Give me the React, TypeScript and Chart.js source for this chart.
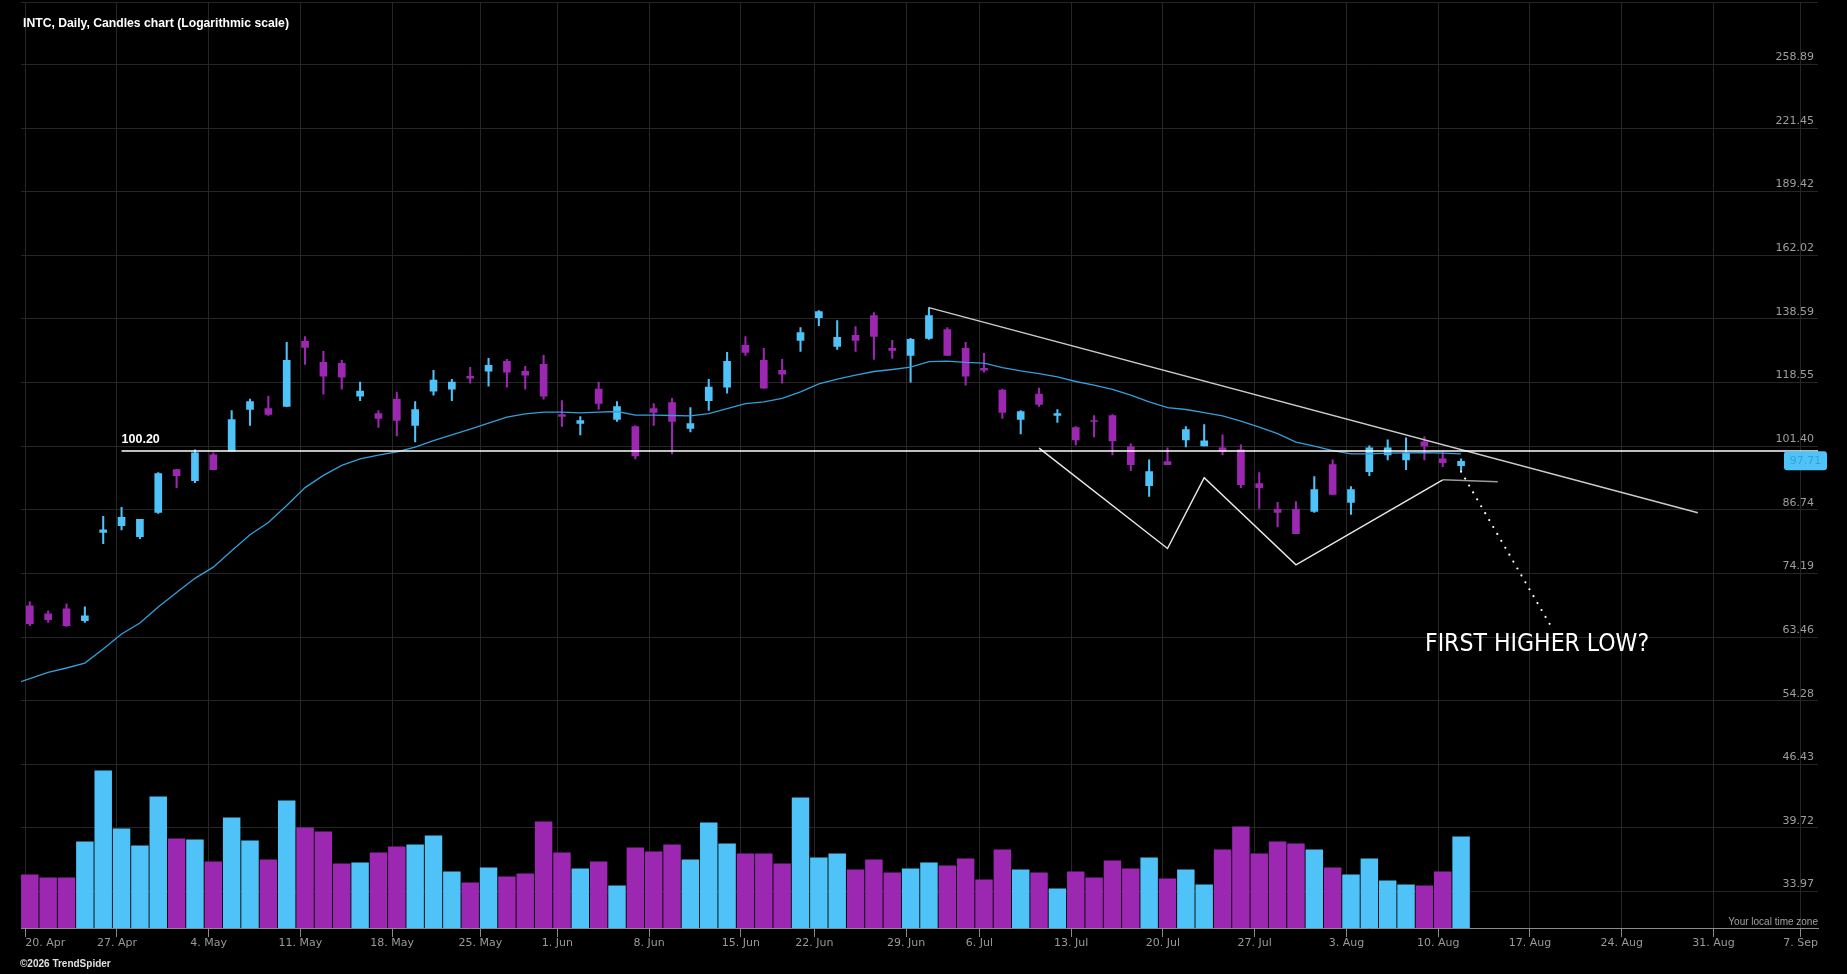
import React, { useEffect, useRef } from 'react';
import Chart from 'chart.js/auto';

// daily sessions from 20 Apr to 11 Aug
const opens = [
  68.5, 67.17, 68.0, 66.05, 82.03, 83.39, 81.17, 86.17, 95.71, 93.16,
  99.26, 100.24, 110.94, 111.21, 111.76, 131.13, 124.56, 124.25, 114.64, 109.85,
  113.8, 106.67, 116.05, 116.62, 120.39, 121.88, 124.86, 121.88, 123.95, 109.59,
  107.19, 116.62, 108.25, 106.41, 111.21, 112.86, 105.89, 113.41, 117.19, 129.86,
  125.17, 122.18, 131.46, 139.03, 129.54, 133.08, 139.72, 128.9, 126.71, 132.1,
  135.0, 128.9, 122.78, 116.33, 108.25, 115.2, 109.32, 106.15, 107.99, 109.32,
  101.23, 92.03, 97.6, 102.98, 101.47, 100.98, 100.48, 92.48, 86.81, 86.81,
  86.38, 96.89, 88.31, 95.24, 99.26, 98.05, 102.47, 98.29, 96.65,
];
const highs = [
  69.18, 67.67, 68.84, 68.33, 85.33, 87.23, 84.7, 95.01, 95.71, 100.48,
  99.75, 110.67, 113.8, 114.64, 130.81, 132.71, 127.96, 125.17, 118.64, 110.67,
  115.76, 113.13, 122.18, 119.51, 123.04, 125.78, 125.48, 123.34, 126.71, 113.41,
  109.05, 118.64, 113.13, 106.67, 112.58, 114.0, 111.48, 119.51, 127.65, 132.71,
  128.9, 125.48, 135.67, 141.44, 138.01, 136.0, 140.75, 131.46, 132.1, 142.48,
  135.67, 130.81, 127.33, 116.62, 110.67, 116.9, 110.94, 106.41, 109.32, 109.59,
  101.97, 98.05, 100.98, 106.41, 106.93, 104.25, 101.72, 95.01, 88.31, 88.52,
  94.08, 98.05, 91.8, 101.47, 102.98, 103.48, 103.74, 99.99, 98.29,
];
const lows = [
  65.24, 65.77, 65.13, 65.77, 79.79, 82.57, 80.77, 85.96, 91.58, 92.71,
  95.71, 100.24, 106.67, 109.32, 111.76, 123.95, 115.2, 116.62, 113.41, 106.15,
  103.99, 102.47, 114.92, 113.41, 118.35, 117.48, 117.19, 116.62, 113.8, 106.41,
  104.25, 110.94, 107.72, 98.29, 106.67, 99.5, 105.02, 110.67, 115.48, 126.71,
  116.9, 118.35, 127.96, 136.33, 128.59, 127.96, 125.48, 125.78, 118.64, 131.78,
  126.71, 117.77, 121.58, 108.52, 104.5, 111.76, 107.46, 101.72, 103.74, 99.26,
  95.47, 89.61, 96.89, 101.23, 101.47, 99.26, 91.58, 87.02, 83.18, 81.77,
  86.17, 90.06, 85.75, 94.31, 98.05, 95.71, 98.05, 96.41, 95.47,
];
const closes = [
  65.56, 66.21, 65.24, 66.84, 82.57, 85.12, 84.7, 94.77, 94.31, 99.75,
  95.71, 108.25, 113.13, 109.59, 125.17, 129.22, 120.39, 120.1, 116.05, 108.52,
  107.99, 110.94, 119.22, 118.64, 119.81, 123.64, 121.58, 120.69, 114.64, 109.05,
  107.99, 112.58, 111.76, 99.02, 110.12, 107.72, 107.19, 117.19, 124.86, 127.65,
  116.9, 120.99, 134.01, 141.09, 132.43, 131.46, 132.71, 128.27, 131.78, 139.72,
  126.71, 120.39, 122.18, 110.12, 110.4, 112.31, 109.85, 102.98, 107.72, 102.73,
  96.89, 95.24, 96.89, 105.58, 102.73, 100.24, 92.25, 91.58, 86.17, 81.77,
  91.13, 90.06, 91.13, 100.98, 100.98, 99.75, 101.47, 97.36, 97.71,
];
// millions of shares
const volumes = [
  44.4, 41.9, 41.9, 71.9, 131.1, 82.8, 68.6, 109.4, 74.4, 73.6,
  55.3, 91.9, 72.8, 56.9, 106.1, 83.6, 80.3, 53.6, 54.4, 62.8,
  67.8, 69.4, 76.9, 46.9, 37.8, 50.3, 42.8, 45.3, 88.6, 62.8,
  49.4, 55.3, 35.3, 66.9, 63.6, 69.4, 56.9, 87.8, 70.3, 61.9,
  61.9, 53.6, 108.6, 58.6, 61.9, 48.6, 56.9, 46.1, 49.4, 54.4,
  51.9, 57.8, 40.3, 65.3, 48.6, 46.1, 32.8, 46.9, 41.9, 56.1,
  49.4, 58.6, 41.1, 48.6, 36.1, 65.3, 84.4, 61.9, 71.9, 70.3,
  65.3, 50.3, 44.4, 57.8, 39.4, 36.1, 35.3, 46.9, 76.1,
];
// moving average, first value belongs to the session before 20 Apr
const maValues = [
  56.45,
  57.28, 58.17, 58.81, 59.53, 61.62, 63.93, 65.68, 68.33, 70.77, 73.29,
  75.34, 78.43, 81.57, 84.08, 87.66, 91.58, 94.38, 96.72, 98.29, 99.19,
  99.99, 101.15, 102.8, 104.25, 105.71, 107.27, 108.86, 109.77, 110.21, 110.21,
  110.04, 110.21, 110.4, 109.4, 109.4, 109.32, 109.24, 109.85, 111.21, 112.58,
  113.05, 113.99, 115.85, 118.14, 119.51, 120.69, 121.79, 122.39, 123.13, 124.77,
  124.95, 124.56, 124.34, 122.99, 121.97, 121.19, 120.19, 118.84, 117.77, 116.53,
  114.92, 113.05, 111.48, 110.94, 110.12, 109.24, 107.8, 106.23, 104.58, 102.4,
  101.4, 100.31, 99.5, 99.5, 99.68, 99.75, 99.82, 99.68, 99.5,
];
const maFirstSession = -1;

const xTickLabels = [
  '20. Apr', '27. Apr', '4. May', '11. May', '18. May', '25. May', '1. Jun', '8. Jun',
  '15. Jun', '22. Jun', '29. Jun', '6. Jul', '13. Jul', '20. Jul', '27. Jul', '3. Aug',
  '10. Aug', '17. Aug', '24. Aug', '31. Aug', '7. Sep',
];
// where each date starts, in session units
const xTickSessions = [
  -0.25, 4.75, 9.75, 14.75, 19.75, 24.55, 28.75, 33.75, 38.75, 42.75, 47.75,
  51.75, 56.75, 61.75, 66.75, 71.75, 76.75, 81.75, 86.75, 91.75, 96.5,
];
const priceTicks = [
  33.97, 39.72, 46.43, 54.28, 63.46, 74.19, 86.74, 101.4, 118.55, 138.59, 162.02, 189.42, 221.45, 258.89,
];

const levelPrice = 100.2;
const levelFromSession = 5;
const trendLine = [{ x: 49, y: 142.48 }, { x: 90.9, y: 86.1 }];
const patternLine = [
  { x: 55, y: 100.9 }, { x: 62, y: 78.87 }, { x: 64, y: 93.85 },
  { x: 69, y: 75.77 }, { x: 77, y: 93.36 }, { x: 80, y: 92.93 },
];
const projection = [{ x: 78, y: 95.24 }, { x: 82.85, y: 65.4 }];
const noteText = 'FIRST HIGHER LOW?';
const noteAt = { x: 76.03, y: 61.36 };

const UP = '#4fc3f7';
const DOWN = '#9c27b0';
const GRID = '#262626';
const X_MIN = -0.48;
const X_MAX = 97.45;
const Y_MIN = 31.06;
const Y_MAX = 301.3;
const VOL_MAX = 772.5;

const labelsPlugin = {
  id: 'labels',
  afterDraw(chart: any) {
    const { ctx, chartArea, scales } = chart;
    const x = scales.x;
    const y = scales.y;
    ctx.save();
    const ly = y.getPixelForValue(levelPrice);
    ctx.font = 'bold 12.5px "Liberation Sans", sans-serif';
    ctx.fillStyle = '#ffffff';
    ctx.textAlign = 'left';
    ctx.textBaseline = 'middle';
    ctx.fillText(levelPrice.toFixed(2), x.getPixelForValue(levelFromSession), ly - 11);

    ctx.font = '24.5px "DejaVu Sans Condensed", "DejaVu Sans", sans-serif';
    ctx.textBaseline = 'alphabetic';
    ctx.fillText(noteText, x.getPixelForValue(noteAt.x), y.getPixelForValue(noteAt.y));

    const last = closes[closes.length - 1];
    const py = y.getPixelForValue(last);
    const bx = chartArea.right - 34;
    const bw = 43;
    const bh = 19;
    ctx.fillStyle = UP;
    ctx.beginPath();
    ctx.roundRect(bx, py - 10, bw, bh, 3);
    ctx.fill();
    ctx.fillStyle = '#3a9fd6';
    ctx.font = '11px "DejaVu Sans", sans-serif';
    ctx.textAlign = 'center';
    ctx.textBaseline = 'middle';
    ctx.fillText(last.toFixed(2), bx + bw / 2, py - 0.5);
    ctx.restore();
  },
};

const CandleChart: React.FC = () => {
  const chartRef = useRef<HTMLCanvasElement | null>(null);

  useEffect(() => {
    if (!chartRef.current) return;
    const colors = closes.map((c, i) => (c >= opens[i] ? UP : DOWN));
    const tickFont = { family: '"DejaVu Sans", sans-serif', size: 11 };
    // blank tick at the right edge so "inner" alignment only moves the first label
    const isEdge = (c: any) => c.tick && c.tick.value === X_MAX;

    const chart = new Chart(chartRef.current, {
      type: 'bar',
      data: {
        datasets: [
          {
            type: 'line',
            data: [{ x: levelFromSession, y: levelPrice }, { x: X_MAX, y: levelPrice }],
            borderColor: '#ffffff',
            borderWidth: 1.5,
            pointRadius: 0,
          },
          {
            type: 'line',
            data: trendLine,
            borderColor: '#cccccc',
            borderWidth: 1.5,
            pointRadius: 0,
          },
          {
            type: 'line',
            data: patternLine,
            borderColor: '#e6e6e6',
            borderWidth: 1.5,
            pointRadius: 0,
            segment: {
              borderColor: (c: any) => (c.p0DataIndex === patternLine.length - 2 ? '#9a9a9a' : '#e6e6e6'),
            },
          },
          {
            type: 'line',
            data: projection,
            borderColor: '#ffffff',
            borderWidth: 2.2,
            borderDash: [0, 8],
            borderCapStyle: 'round',
            pointRadius: 0,
          },
          {
            type: 'line',
            data: maValues.map((v, i) => ({ x: i + maFirstSession, y: v })),
            borderColor: '#339fd9',
            borderWidth: 1.3,
            pointRadius: 0,
          },
          {
            data: opens.map((o, i) => ({ x: i, y: [o, closes[i]] })),
            backgroundColor: colors,
            barThickness: 7,
            grouped: false,
          },
          {
            data: lows.map((l, i) => ({ x: i, y: [l, highs[i]] })),
            backgroundColor: colors,
            barThickness: 1.4,
            grouped: false,
          },
          {
            yAxisID: 'yv',
            data: volumes.map((v, i) => ({ x: i, y: v })),
            backgroundColor: colors,
            barThickness: 16.8,
            grouped: false,
          },
        ] as any,
      },
      options: {
        responsive: false,
        animation: false,
        events: [],
        layout: { padding: { left: 21, top: 1, right: 0, bottom: 0 } },
        plugins: { legend: { display: false }, tooltip: { enabled: false } },
        scales: {
          x: {
            type: 'linear',
            min: X_MIN,
            max: X_MAX,
            bounds: 'data',
            offset: false,
            afterBuildTicks: (s: any) => {
              s.ticks = [...xTickSessions, X_MAX].map((v) => ({ value: v }));
            },
            afterFit: (s: any) => {
              s.height = 46;
            },
            ticks: {
              autoSkip: false,
              maxRotation: 0,
              padding: 0,
              align: 'inner',
              color: '#999999',
              font: tickFont,
              callback: (_v: any, i: number) => xTickLabels[i] ?? '',
            },
            grid: {
              color: (c: any) => (isEdge(c) ? 'rgba(0,0,0,0)' : GRID),
              tickColor: (c: any) => (isEdge(c) ? 'rgba(0,0,0,0)' : '#8a8a8a'),
              tickLength: 9,
              offset: false,
            },
            border: { color: '#8c8c8c' },
          },
          y: {
            type: 'logarithmic',
            position: 'right',
            min: Y_MIN,
            max: Y_MAX,
            bounds: 'data',
            afterBuildTicks: (s: any) => {
              s.ticks = [...priceTicks, Y_MAX].map((v) => ({ value: v }));
            },
            afterFit: (s: any) => {
              s.width = 29;
            },
            ticks: {
              mirror: true,
              padding: -4,
              labelOffset: -7,
              color: '#9e9e9e',
              font: tickFont,
              callback: (v: any) => (priceTicks.includes(v) ? Number(v).toFixed(2) : ''),
            },
            grid: { color: GRID, drawTicks: false },
            border: { display: false },
          },
          yv: {
            type: 'linear',
            display: false,
            min: 0,
            max: VOL_MAX,
          },
        },
      } as any,
      plugins: [labelsPlugin],
    });

    return () => {
      chart.destroy();
    };
  }, []);

  return (
    <div style={{ position: 'absolute', left: 0, top: 0, width: 1847, height: 974, background: '#000', overflow: 'hidden' }}>
      <canvas ref={chartRef} width={1847} height={974} style={{ display: 'block' }} />
      <div style={{ position: 'absolute', left: 23, top: 15, color: '#fff', font: 'bold 12.2px "Liberation Sans", sans-serif', lineHeight: '16px', whiteSpace: 'nowrap' }}>
        INTC, Daily, Candles chart (Logarithmic scale)
      </div>
      <div style={{ position: 'absolute', right: 29, top: 916, color: '#a0a0a0', font: '10px "Liberation Sans", sans-serif', lineHeight: '12px' }}>
        Your local time zone
      </div>
      <div style={{ position: 'absolute', left: 20, top: 958, color: '#e0e0e0', font: 'bold 10px "Liberation Sans", sans-serif', lineHeight: '12px' }}>
        ©2026 TrendSpider
      </div>
    </div>
  );
};

export default function App() {
  return <CandleChart />;
}
